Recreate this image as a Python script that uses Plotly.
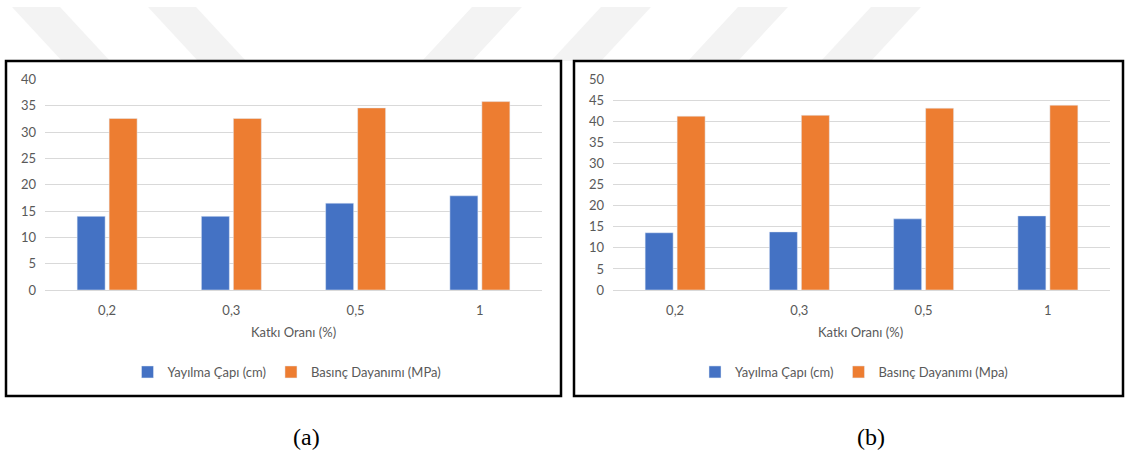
import plotly.graph_objects as go

W, H = 1129, 459

categories = ["0,2", "0,3", "0,5", "1"]
spread_a = [14.0, 14.0, 16.5, 17.9]
strength_a = [32.6, 32.6, 34.6, 35.8]
spread_b = [13.6, 13.8, 16.9, 17.6]
strength_b = [41.3, 41.5, 43.2, 43.9]

name_spread = "Yayılma Çapı (cm)"
name_strength_a = "Basınç Dayanımı (MPa)"
name_strength_b = "Basınç Dayanımı (Mpa)"
x_title = "Katkı Oranı (%)"
panel_labels = ["(a)", "(b)"]

BLUE = "#4472C4"
ORANGE = "#ED7D31"
GRAY = "#595959"
GRID = "#D9D9D9"
FONT = "Lato"

def px(x):
    return x / W

def py(y):
    return 1 - y / H

fig = go.Figure()
fig.add_trace(go.Bar(x=categories, y=spread_a, name=name_spread, marker_color=BLUE,
                     xaxis="x", yaxis="y", legend="legend"))
fig.add_trace(go.Bar(x=categories, y=strength_a, name=name_strength_a, marker_color=ORANGE,
                     xaxis="x", yaxis="y", legend="legend"))
fig.add_trace(go.Bar(x=categories, y=spread_b, name=name_spread, marker_color=BLUE,
                     xaxis="x2", yaxis="y2", legend="legend2"))
fig.add_trace(go.Bar(x=categories, y=strength_b, name=name_strength_b, marker_color=ORANGE,
                     xaxis="x2", yaxis="y2", legend="legend2"))

ydom = [py(290), py(79.5)]
xcommon = dict(showgrid=False, showline=True, linecolor=GRID, linewidth=1, ticks="",
               tickfont=dict(family=FONT, size=13, color=GRAY), ticklabelstandoff=8,
               fixedrange=True, automargin=False)
ycommon = dict(showgrid=True, gridcolor=GRID, gridwidth=1, zeroline=False, showline=False,
               ticks="", tickfont=dict(family=FONT, size=13, color=GRAY), ticklabelstandoff=8,
               dtick=5, fixedrange=True, automargin=False)

fig.update_layout(
    width=W, height=H,
    margin=dict(l=0, r=0, t=0, b=0, pad=0, autoexpand=False),
    paper_bgcolor="white", plot_bgcolor="rgba(0,0,0,0)",
    barmode="group", bargap=0.485, bargroupgap=0.125,
    xaxis=dict(domain=[px(45), px(542)], anchor="y", **xcommon),
    yaxis=dict(domain=ydom, anchor="x", range=[0, 40], **ycommon),
    xaxis2=dict(domain=[px(613), px(1110)], anchor="y2", **xcommon),
    yaxis2=dict(domain=ydom, anchor="x2", range=[0, 50], **ycommon),
    legend=dict(orientation="h", x=px(287), xanchor="center", y=py(372), yanchor="middle",
                font=dict(family=FONT, size=13, color=GRAY), itemwidth=30,
                bgcolor="rgba(0,0,0,0)"),
    legend2=dict(orientation="h", x=px(854), xanchor="center", y=py(372), yanchor="middle",
                 font=dict(family=FONT, size=13, color=GRAY), itemwidth=30,
                 bgcolor="rgba(0,0,0,0)"),
    showlegend=True,
)

shapes = []
# faint watermark stripes above the chart boxes
for x0 in [12, 148]:
    shapes.append(dict(type="path", xref="paper", yref="paper", layer="below",
                       path=f"M{px(x0)},{py(7)} L{px(x0+48)},{py(7)} L{px(x0+48+50)},{py(61)} L{px(x0+50)},{py(61)} Z",
                       fillcolor="#F3F3F3", line=dict(width=0)))
for x0 in [472, 601, 738, 871]:
    shapes.append(dict(type="path", xref="paper", yref="paper", layer="below",
                       path=f"M{px(x0)},{py(7)} L{px(x0+50)},{py(7)} L{px(x0)},{py(61)} L{px(x0-50)},{py(61)} Z",
                       fillcolor="#F3F3F3", line=dict(width=0)))
# chart borders
for (x0, x1) in [(6, 561), (574, 1123)]:
    shapes.append(dict(type="rect", xref="paper", yref="paper", layer="above",
                       x0=px(x0), x1=px(x1), y0=py(396), y1=py(61),
                       line=dict(color="black", width=2.5), fillcolor="rgba(0,0,0,0)"))
fig.update_layout(shapes=shapes)

annotations = []
for cx in [293, 860]:
    annotations.append(dict(text=x_title, xref="paper", yref="paper", x=px(cx), y=py(332),
                            xanchor="center", yanchor="middle", showarrow=False,
                            font=dict(family=FONT, size=13, color=GRAY)))
for cx, lab in zip([306, 871], panel_labels):
    annotations.append(dict(text=lab, xref="paper", yref="paper", x=px(cx), y=py(437),
                            xanchor="center", yanchor="middle", showarrow=False,
                            font=dict(family="Liberation Serif", size=24, color="black")))
fig.update_layout(annotations=annotations)

fig.write_html("out.html",
               post_script="document.body.style.margin='0';document.body.style.padding='0';")
